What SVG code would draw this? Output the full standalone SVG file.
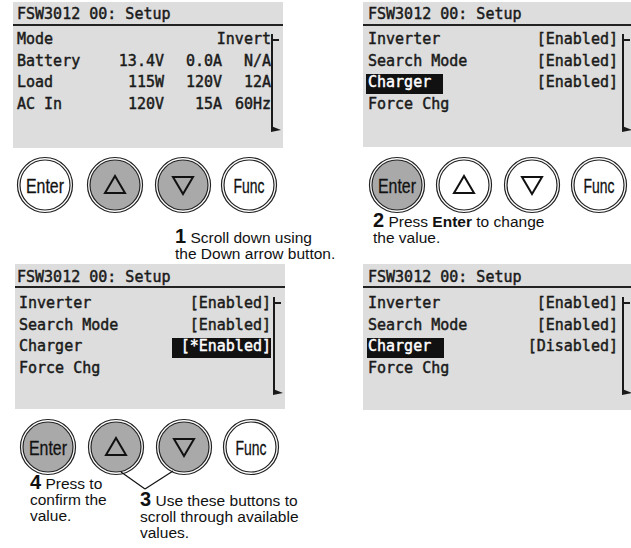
<svg xmlns="http://www.w3.org/2000/svg" width="631" height="548" viewBox="0 0 631 548">
<style>
.bg{fill:#ffffff}
.panel{fill:#dddddd}
.lcd{font-family:"DejaVu Sans Mono",monospace;font-size:15px;fill:#1a1a1a;stroke:#1a1a1a;stroke-width:0.45}
.end{text-anchor:end}
.hl{fill:#111111}
.inv{fill:#ffffff;stroke:#ffffff}
.div{stroke:#222222;stroke-width:2}
.sb{stroke:#1a1a1a;stroke-width:2;fill:none}
.wedge{fill:#1a1a1a}
.ring{fill:#ffffff;stroke:#222222;stroke-width:1.2}
.face{fill:#ffffff;stroke:#222222;stroke-width:1.2}
.pressed{fill:#a9a9a9}
.tri{fill:none;stroke:#111111;stroke-width:2;stroke-linejoin:miter}
.bl{font-family:"Liberation Sans",Arial,sans-serif;font-size:21px;fill:#111111;text-anchor:middle;stroke:#111111;stroke-width:0.3}
.cap{font-family:"Liberation Sans",Arial,sans-serif;font-size:15.5px;fill:#111111}
.num{font-weight:bold;font-size:20px}
.b{font-weight:bold}
.conn{stroke:#111111;stroke-width:1.2;fill:none}
</style>
<rect class="bg" x="0" y="0" width="631" height="548"/>

<!-- Screen 1 -->
<g id="screen1">
  <rect class="panel" x="13" y="2" width="270" height="146"/>
  <line class="div" x1="13" y1="25" x2="283" y2="25"/>
  <text class="lcd" x="17" y="19">FSW3012 00: Setup</text>
  <text class="lcd" x="17" y="44">Mode</text>
  <text class="lcd end" x="271" y="44">Invert</text>
  <text class="lcd" x="17" y="65.7">Battery</text>
  <text class="lcd end" x="164" y="65.7">13.4V</text>
  <text class="lcd end" x="222" y="65.7">0.0A</text>
  <text class="lcd end" x="271" y="65.7">N/A</text>
  <text class="lcd" x="17" y="87.4">Load</text>
  <text class="lcd end" x="164" y="87.4">115W</text>
  <text class="lcd end" x="222" y="87.4">120V</text>
  <text class="lcd end" x="271" y="87.4">12A</text>
  <text class="lcd" x="17" y="109">AC In</text>
  <text class="lcd end" x="164" y="109">120V</text>
  <text class="lcd end" x="222" y="109">15A</text>
  <text class="lcd end" x="271" y="109">60Hz</text>
  <path class="sb" d="M272,34 V131 M272,40 H279"/>
  <polygon class="wedge" points="271,126 281,130 271,132"/>
</g>

<!-- Screen 2 -->
<g id="screen2">
  <rect class="panel" x="363" y="2" width="270" height="145"/>
  <line class="div" x1="363" y1="25" x2="631" y2="25"/>
  <text class="lcd" x="368" y="19">FSW3012 00: Setup</text>
  <text class="lcd" x="368" y="44">Inverter</text>
  <text class="lcd end" x="618" y="44">[Enabled]</text>
  <text class="lcd" x="368" y="65.7">Search Mode</text>
  <text class="lcd end" x="618" y="65.7">[Enabled]</text>
  <rect class="hl" x="366" y="74" width="77" height="20"/>
  <text class="lcd inv" x="368" y="87.4">Charger</text>
  <text class="lcd end" x="618" y="87.4">[Enabled]</text>
  <text class="lcd" x="368" y="109">Force Chg</text>
  <path class="sb" d="M623,34 V131 M623,40 H630"/>
  <polygon class="wedge" points="622,126 632,130 622,132"/>
</g>

<!-- Screen 3 -->
<g id="screen3">
  <rect class="panel" x="15" y="264" width="270" height="145"/>
  <line class="div" x1="15" y1="287" x2="285" y2="287"/>
  <text class="lcd" x="17" y="282">FSW3012 00: Setup</text>
  <text class="lcd" x="19" y="308">Inverter</text>
  <text class="lcd end" x="271" y="308">[Enabled]</text>
  <text class="lcd" x="19" y="329.7">Search Mode</text>
  <text class="lcd end" x="271" y="329.7">[Enabled]</text>
  <text class="lcd" x="19" y="351.4">Charger</text>
  <rect class="hl" x="172" y="338" width="99" height="20"/>
  <text class="lcd inv end" x="271" y="351.4">[*Enabled]</text>
  <text class="lcd" x="19" y="373">Force Chg</text>
  <path class="sb" d="M274,297 V394 M274,303 H281"/>
  <polygon class="wedge" points="273,389 283,393 273,395"/>
</g>

<!-- Screen 4 -->
<g id="screen4">
  <rect class="panel" x="363" y="264" width="270" height="146"/>
  <line class="div" x1="363" y1="287" x2="631" y2="287"/>
  <text class="lcd" x="368" y="282">FSW3012 00: Setup</text>
  <text class="lcd" x="368" y="308">Inverter</text>
  <text class="lcd end" x="618" y="308">[Enabled]</text>
  <text class="lcd" x="368" y="329.7">Search Mode</text>
  <text class="lcd end" x="618" y="329.7">[Enabled]</text>
  <rect class="hl" x="367" y="338" width="77" height="20"/>
  <text class="lcd inv" x="368" y="351.4">Charger</text>
  <text class="lcd end" x="618" y="351.4">[Disabled]</text>
  <text class="lcd" x="368" y="373">Force Chg</text>
  <path class="sb" d="M623,297 V394 M623,303 H630"/>
  <polygon class="wedge" points="622,389 632,393 622,395"/>
</g>

<!-- Buttons row 1 -->
<g id="buttons1">
  <g id="b1-enter"><circle class="ring" cx="45" cy="185" r="27.5"/><circle class="face" cx="45" cy="185" r="25"/><text class="bl" x="45" y="193" textLength="38" lengthAdjust="spacingAndGlyphs">Enter</text></g>
  <g id="b1-up"><circle class="ring" cx="115" cy="185" r="27.5"/><circle class="face pressed" cx="115" cy="185" r="25"/><polygon class="tri" points="115,176 105,193 125,193"/></g>
  <g id="b1-down"><circle class="ring" cx="183" cy="185" r="27.5"/><circle class="face pressed" cx="183" cy="185" r="25"/><polygon class="tri" points="173,177 193,177 183,194"/></g>
  <g id="b1-func"><circle class="ring" cx="249" cy="185" r="27.5"/><circle class="face" cx="249" cy="185" r="25"/><text class="bl" x="249" y="193" textLength="31" lengthAdjust="spacingAndGlyphs">Func</text></g>
</g>

<!-- Buttons row 2 -->
<g id="buttons2">
  <g id="b2-enter"><circle class="ring" cx="397" cy="185" r="27.5"/><circle class="face pressed" cx="397" cy="185" r="25"/><text class="bl" x="397" y="193" textLength="38" lengthAdjust="spacingAndGlyphs">Enter</text></g>
  <g id="b2-up"><circle class="ring" cx="464" cy="185" r="27.5"/><circle class="face" cx="464" cy="185" r="25"/><polygon class="tri" points="464,176 454,193 474,193"/></g>
  <g id="b2-down"><circle class="ring" cx="532" cy="185" r="27.5"/><circle class="face" cx="532" cy="185" r="25"/><polygon class="tri" points="522,177 542,177 532,194"/></g>
  <g id="b2-func"><circle class="ring" cx="599" cy="185" r="27.5"/><circle class="face" cx="599" cy="185" r="25"/><text class="bl" x="599" y="193" textLength="31" lengthAdjust="spacingAndGlyphs">Func</text></g>
</g>

<!-- Buttons row 3 -->
<g id="buttons3">
  <g id="b3-enter"><circle class="ring" cx="48" cy="447" r="27.5"/><circle class="face pressed" cx="48" cy="447" r="25"/><text class="bl" x="48" y="455" textLength="38" lengthAdjust="spacingAndGlyphs">Enter</text></g>
  <g id="b3-up"><circle class="ring" cx="116" cy="447" r="27.5"/><circle class="face pressed" cx="116" cy="447" r="25"/><polygon class="tri" points="116,438 106,455 126,455"/></g>
  <g id="b3-down"><circle class="ring" cx="184" cy="447" r="27.5"/><circle class="face pressed" cx="184" cy="447" r="25"/><polygon class="tri" points="174,439 194,439 184,456"/></g>
  <g id="b3-func"><circle class="ring" cx="251" cy="447" r="27.5"/><circle class="face" cx="251" cy="447" r="25"/><text class="bl" x="251" y="455" textLength="31" lengthAdjust="spacingAndGlyphs">Func</text></g>
</g>

<!-- Connectors -->
<g id="connectors">
  <line class="conn" x1="121" y1="472" x2="145" y2="489"/>
  <line class="conn" x1="173" y1="471" x2="145" y2="489"/>
</g>

<!-- Captions -->
<g id="captions">
  <text class="cap" x="175" y="243"><tspan class="num">1</tspan> Scroll down using</text>
  <text class="cap" x="175" y="259">the Down arrow button.</text>
  <text class="cap" x="373" y="227"><tspan class="num">2</tspan> Press <tspan class="b">Enter</tspan> to change</text>
  <text class="cap" x="373" y="243">the value.</text>
  <text class="cap" x="30" y="489"><tspan class="num">4</tspan> Press to</text>
  <text class="cap" x="30" y="505">confirm the</text>
  <text class="cap" x="30" y="521">value.</text>
  <text class="cap" x="140" y="506"><tspan class="num">3</tspan> Use these buttons to</text>
  <text class="cap" x="140" y="522">scroll through available</text>
  <text class="cap" x="140" y="538">values.</text>
</g>
</svg>
